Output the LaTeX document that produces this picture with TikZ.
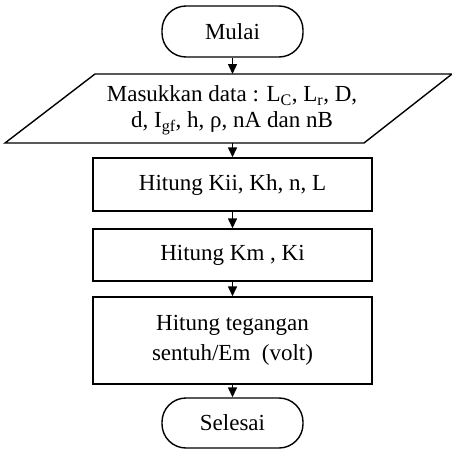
\documentclass[tikz,border=0pt]{standalone}
\usepackage{fontspec}
\setmainfont{Liberation Serif}
\usetikzlibrary{arrows.meta}
\begin{document}
\begin{tikzpicture}[x=1pt,y=-1pt,
  every node/.style={font=\fontsize{23}{26}\selectfont, align=center, inner sep=0pt},
  term/.style={draw, line width=1.4pt, rounded corners=24pt, minimum width=141pt, minimum height=51pt},
  proc/.style={draw, line width=1.4pt, minimum width=279pt},
  conn/.style={line width=1.4pt, -{Triangle[length=10pt,width=9pt]}},
  shapeline/.style={line width=1.4pt}]
\useasboundingbox (0,0) rectangle (452,450);
\node[term] (start) at (232.5,31.5) {Mulai};
\coordinate (pTL) at (95,74);
\coordinate (pTR) at (452,74);
\coordinate (pBR) at (364,143);
\coordinate (pBL) at (5,143);
\draw[shapeline, line join=miter] (pTL) -- (pTR) -- (pBR) -- (pBL) -- cycle;
\coordinate (pTop) at (232.5,74);
\coordinate (pBot) at (232.5,143);
\node (input) at (232,110) {Masukkan data : L\textsubscript{C}, L\textsubscript{r}, D,\\ d, I\textsubscript{gf}, h, ρ, nA dan nB};
\node[proc, minimum height=53pt] (b1) at (232.5,184.5) {Hitung Kii, Kh, n, L};
\node[proc, minimum height=52pt] (b2) at (232.5,255) {Hitung Km , Ki};
\node[proc, minimum height=87pt, font=\fontsize{23}{30}\selectfont] (b3) at (232.5,340.5) {Hitung tegangan\\ sentuh/Em\ \ (volt)};
\node[term, minimum height=50pt] (stop) at (232.5,423) {Selesai};
\draw[conn] (start.south) -- (pTop);
\draw[conn] (pBot) -- (b1.north);
\draw[conn] (b1.south) -- (b2.north);
\draw[conn] (b2.south) -- (b3.north);
\draw[conn] (b3.south) -- (stop.north);
\end{tikzpicture}
\end{document}
